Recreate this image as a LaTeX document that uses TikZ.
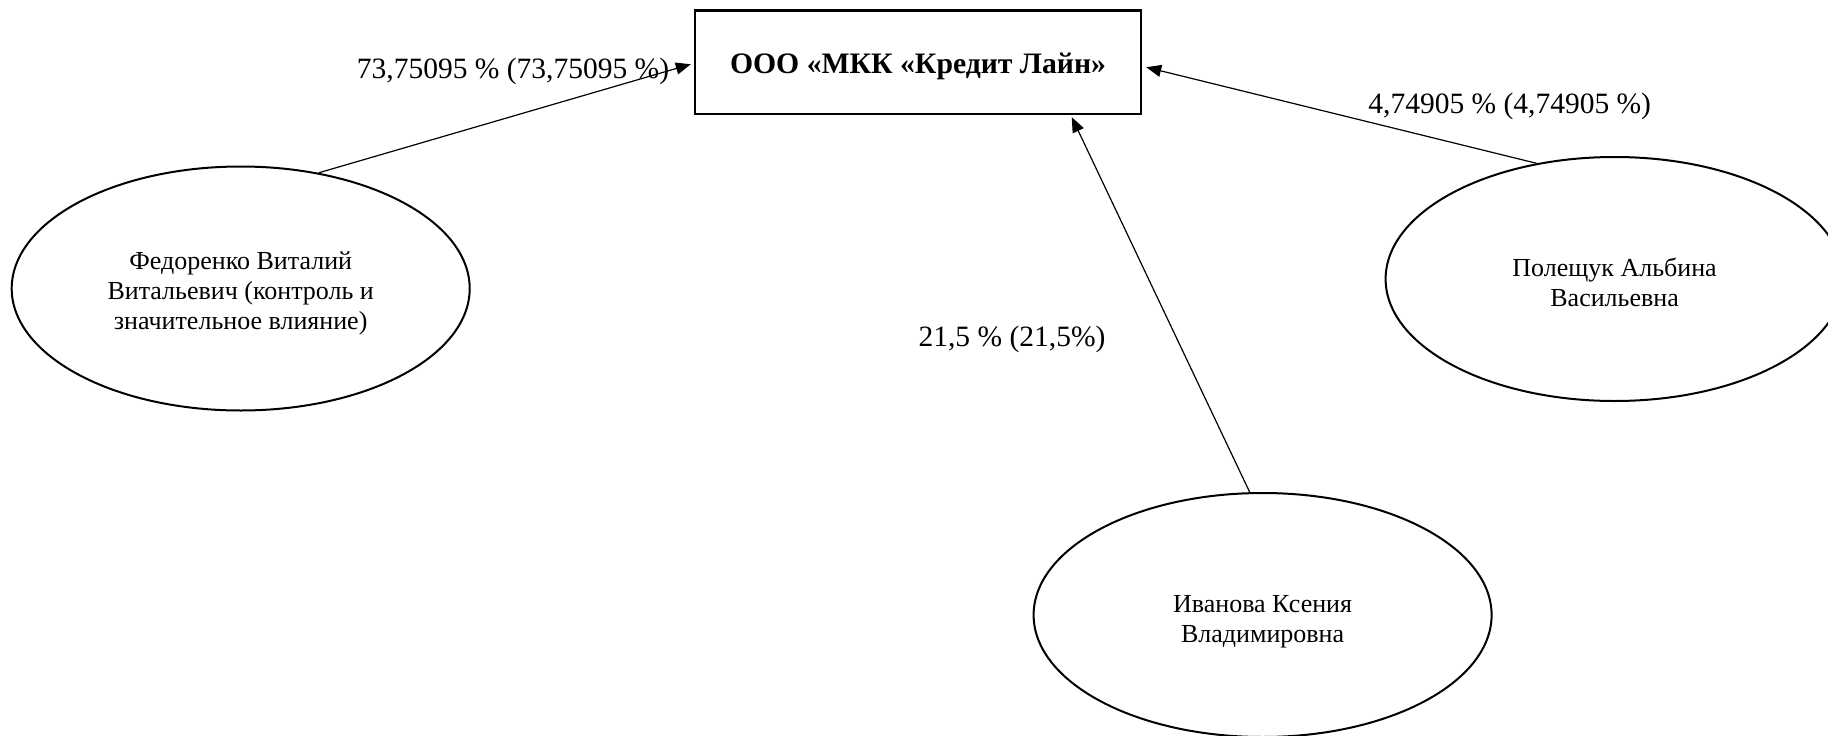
\documentclass[tikz,border=0pt]{standalone}
\usepackage{fontspec}
\setmainfont{Liberation Serif}
\usetikzlibrary{shapes.geometric,arrows.meta}
\begin{document}
\begin{tikzpicture}[x=1pt,y=-1pt,
  person/.style={ellipse,draw,line width=2pt,minimum width=458pt,minimum height=244pt,inner sep=0pt},
  ptext/.style={align=center,inner sep=0pt,font=\fontsize{26}{30.3}\selectfont},
  company/.style={rectangle,draw,line width=2.4pt,minimum width=446pt,minimum height=103.5pt,inner sep=0pt},
  ctext/.style={inner sep=0pt,font=\fontsize{29.7}{34}\selectfont\bfseries},
  share/.style={font=\fontsize{29.5}{34}\selectfont,inner sep=0pt},
  link/.style={line width=1.2pt,-{Triangle[length=15pt,width=12pt]}}]
\useasboundingbox (0,0) rectangle (1828,736);
\clip (0,0) rectangle (1828,736);
\node[company] (box) at (918,62.25) {};
\node[ctext] (boxt) at (918,66) {ООО «МКК «Кредит Лайн»};
\node[person] (fed) at (240.7,288.5) {};
\node[ptext] (fedt) at (240.7,293.5) {Федоренко Виталий\\Витальевич (контроль и\\значительное влияние)};
\node[person] (pol) at (1614.6,279) {};
\node[ptext] (polt) at (1614.6,282) {Полещук Альбина\\Васильевна};
\node[person] (iva) at (1262.6,615) {};
\node[ptext] (ivat) at (1262.6,622) {Иванова Ксения\\Владимировна};
\node[share] (l1) at (513,71) {73,75095 \% (73,75095 \%)};
\node[share] (l2) at (1509.7,106) {4,74905 \% (4,74905 \%)};
\node[share] (l3) at (1012,339.5) {21,5 \% (21,5\%)};
\draw[link] (fed.56) -- ([xshift=-3pt,yshift=-2pt]box.west);
\draw[link] (pol.124.8) -- ([xshift=4pt,yshift=-5pt]box.east);
\draw[link] (iva.96.3) -- ([yshift=-2pt]box.-19.6);
\end{tikzpicture}
\end{document}
